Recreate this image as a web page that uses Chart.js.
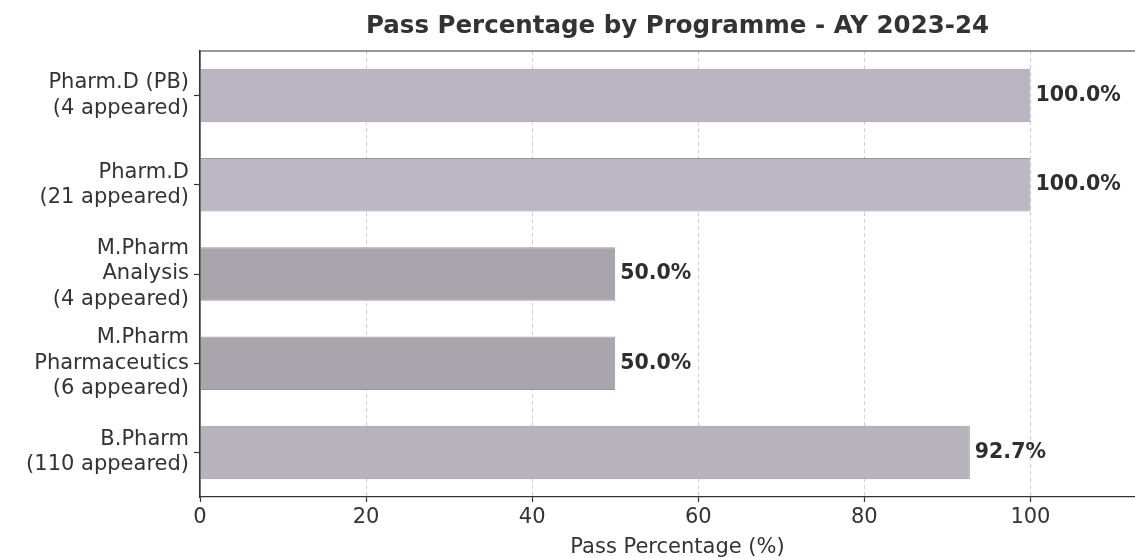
<!DOCTYPE html>
<html>
<head>
<meta charset="utf-8">
<script src="https://cdn.jsdelivr.net/npm/chart.js@4.4.1/dist/chart.umd.min.js"></script>
<style>
  html, body { margin: 0; padding: 0; background: #fff; overflow: hidden; }
  #wrap { width: 1170px; height: 558px; position: relative; }
</style>
</head>
<body>
<div id="wrap"><canvas id="passChart"></canvas></div>
<script>
// data
const programmes = [
    ['Pharm.D (PB)', '(4 appeared)'],
    ['Pharm.D', '(21 appeared)'],
    ['M.Pharm', 'Analysis', '(4 appeared)'],
    ['M.Pharm', 'Pharmaceutics', '(6 appeared)'],
    ['B.Pharm', '(110 appeared)']
];
const passPercent = [100.0, 100.0, 50.0, 50.0, 92.7];
const barColors = ['#bab5c0', '#bcb7c3', '#a9a4ab', '#aaa5ac', '#b7b2bc'];
const xTicks = [0, 20, 40, 60, 80, 100];

const FONT = "'DejaVu Sans', Verdana, sans-serif";
const INK = '#333333';

// top + right + left spine like matplotlib
const framePlugin = {
    id: 'frame',
    afterDraw(chart) {
        const { ctx, chartArea: a } = chart;
        ctx.save();
        ctx.strokeStyle = INK;
        ctx.lineWidth = 1.2;
        ctx.beginPath();
        ctx.moveTo(a.left, a.bottom);
        ctx.lineTo(a.left, a.top);
        ctx.lineTo(a.right, a.top);
        ctx.lineTo(a.right, a.bottom);
        ctx.stroke();
        ctx.restore();
    }
};

// value labels at end of each bar
const valueLabels = {
    id: 'valueLabels',
    afterDatasetsDraw(chart) {
        const { ctx } = chart;
        const meta = chart.getDatasetMeta(0);
        ctx.save();
        ctx.font = "bold 20.5px " + FONT;
        ctx.fillStyle = '#2e2e2e';
        ctx.textAlign = 'left';
        ctx.textBaseline = 'middle';
        meta.data.forEach((bar, i) => {
            ctx.fillText(passPercent[i].toFixed(1) + '%', bar.x + 5, bar.y);
        });
        ctx.restore();
    }
};

const ctx = document.getElementById('passChart').getContext('2d');

const passChart = new Chart(ctx, {
    type: 'bar',
    data: {
        labels: programmes,
        datasets: [{
            data: passPercent,
            backgroundColor: barColors,
            borderColor: '#9b97a1',
            borderWidth: 1,
            barPercentage: 0.6,
            categoryPercentage: 1.0
        }]
    },
    options: {
        indexAxis: 'y',
        responsive: true,
        maintainAspectRatio: false,
        animation: false,
        layout: { padding: { left: 0, right: 15, top: 0, bottom: 0 } },
        plugins: {
            legend: { display: false },
            tooltip: { enabled: false },
            title: {
                display: true,
                text: 'Pass Percentage by Programme - AY 2023-24',
                fullSize: false,
                color: INK,
                font: { family: FONT, size: 24.5, weight: 'bold', lineHeight: 1.2 },
                padding: { top: 12, bottom: 9.6 }
            }
        },
        scales: {
            x: {
                min: 0,
                max: 115,
                afterBuildTicks(scale) {
                    scale.ticks = xTicks.map(v => ({ value: v }));
                },
                afterFit(scale) { scale.height = 61; },
                ticks: {
                    color: INK,
                    font: { family: FONT, size: 21, lineHeight: 1.2 },
                    padding: 3,
                    maxRotation: 0
                },
                grid: {
                    color: (c) => (c.tick && c.tick.value === 0) ? 'rgba(0,0,0,0)' : '#d0d0d0',
                    lineWidth: 1,
                    drawTicks: true,
                    tickLength: 5,
                    tickColor: INK,
                    tickBorderDash: [],
                    tickWidth: 1.2
                },
                border: { display: true, color: INK, width: 1.2, dash: [4, 3] },
                title: {
                    display: true,
                    text: 'Pass Percentage (%)',
                    color: INK,
                    font: { family: FONT, size: 21, lineHeight: 1.0 },
                    padding: { top: 0, bottom: 0 }
                }
            },
            y: {
                afterFit(scale) { scale.width = 200; },
                ticks: {
                    color: INK,
                    font: { family: FONT, size: 21, lineHeight: 1.2 },
                    padding: 5
                },
                grid: {
                    offset: false,
                    drawOnChartArea: false,
                    drawTicks: true,
                    tickLength: 6,
                    tickColor: INK,
                    tickWidth: 1.2
                },
                border: { display: true, color: INK, width: 1.2 }
            }
        }
    },
    plugins: [framePlugin, valueLabels]
});
</script>
</body>
</html>
